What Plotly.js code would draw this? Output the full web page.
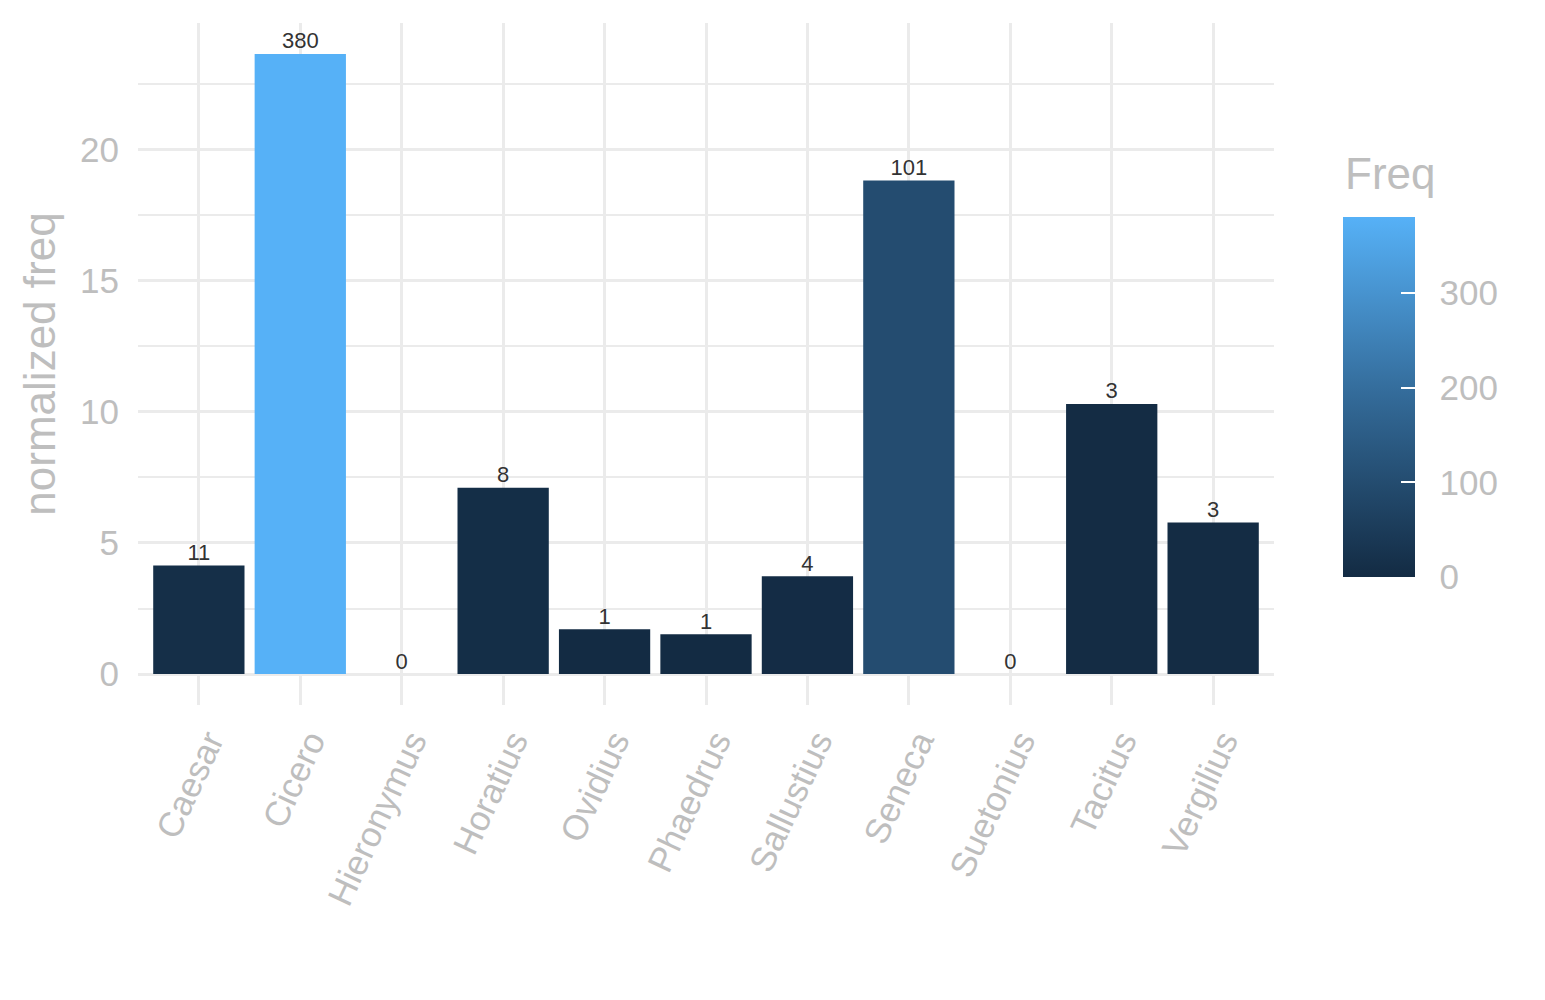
<!DOCTYPE html>
<html>
<head>
<meta charset="utf-8">
<script src="https://cdn.plot.ly/plotly-3.0.1.min.js"></script>
<style>
  html, body { margin: 0; padding: 0; background: #fff; }
  #chart { width: 1545px; height: 1000px; }
</style>
</head>
<body>
<div id="chart"></div>
<script>
// authors on the x axis
const authors = ['Caesar', 'Cicero', 'Hieronymus', 'Horatius', 'Ovidius', 'Phaedrus',
                 'Sallustius', 'Seneca', 'Suetonius', 'Tacitus', 'Vergilius'];
// bar heights (normalized freq)
const normFreq = [4.14, 23.65, 0, 7.11, 1.71, 1.52, 3.73, 18.82, 0, 10.30, 5.78];
// raw counts, used for fill colour and labels
const freq = [11, 380, 0, 8, 1, 1, 4, 101, 0, 3, 3];
const freqTicks = [0, 100, 200, 300];

const gray = '#BEBEBE';
const grid = '#EBEBEB';
const fontFamily = '"Liberation Sans", Arial, Helvetica, sans-serif';
const colorscale = [[0, '#132B43'], [0.5, '#336A98'], [1, '#56B1F7']];

// plot area in pixels, used to place the colour bar and its title
const plotLeft = 138, plotRight = 1274, plotTop = 23, plotBottom = 705;
const px = x => (x - plotLeft) / (plotRight - plotLeft);
const py = y => (plotBottom - y) / (plotBottom - plotTop);

const barPlacement = {
    x: px(1343), xanchor: 'left', xpad: 0,
    y: py(397), yanchor: 'middle', ypad: 0,
    lenmode: 'pixels', len: 360,
    thickness: 72,
    outlinewidth: 0,
    tickvals: freqTicks
};

const bars = {
    type: 'bar',
    x: authors,
    y: normFreq,
    width: 0.9,
    marker: {
        color: freq,
        cmin: 0,
        cmax: 380,
        colorscale: colorscale,
        line: { width: 0 },
        showscale: true,
        // labelled colour bar; transparent outside ticks push the labels off the bar
        colorbar: Object.assign({}, barPlacement, {
            ticks: 'outside', ticklen: 18, tickcolor: 'rgba(0,0,0,0)',
            tickfont: { size: 35, color: gray }
        })
    },
    hoverinfo: 'x+y'
};

const labels = {
    type: 'scatter',
    mode: 'text',
    x: authors,
    y: normFreq,
    text: freq.map(String),
    textposition: 'top center',
    textfont: { size: 22, color: '#333333' },
    showlegend: false,
    hoverinfo: 'skip'
};

// same colour bar again on top, only to draw the white inside tick marks
const tickOverlay = {
    type: 'scatter',
    mode: 'markers',
    x: authors,
    y: normFreq,
    marker: {
        color: freq,
        cmin: 0,
        cmax: 380,
        colorscale: colorscale,
        opacity: 0,
        size: 1,
        showscale: true,
        colorbar: Object.assign({}, barPlacement, {
            ticks: 'inside', ticklen: 14, tickcolor: '#ffffff', tickwidth: 1.5,
            showticklabels: false
        })
    },
    showlegend: false,
    hoverinfo: 'skip'
};

const layout = {
    width: 1545,
    height: 1000,
    paper_bgcolor: '#ffffff',
    plot_bgcolor: '#ffffff',
    font: { family: fontFamily, color: gray },
    margin: { l: plotLeft, r: 1545 - plotRight, t: plotTop, b: 1000 - plotBottom, autoexpand: false },
    showlegend: false,
    bargap: 0.1,
    xaxis: {
        range: [-0.6, 10.6],
        showgrid: true,
        gridcolor: grid,
        gridwidth: 3,
        zeroline: false,
        showline: false,
        ticks: '',
        tickangle: -65,
        tickfont: { size: 35, color: gray },
        ticklabelstandoff: 8,
        ticklabelshift: 10
    },
    yaxis: {
        range: [-1.18, 24.83],
        tickvals: [0, 5, 10, 15, 20],
        showgrid: true,
        gridcolor: grid,
        gridwidth: 3,
        zeroline: false,
        showline: false,
        ticks: '',
        tickfont: { size: 35, color: gray },
        ticklabelstandoff: 18,
        minor: { tickvals: [2.5, 7.5, 12.5, 17.5, 22.5], showgrid: true, gridcolor: grid, gridwidth: 1.5 },
        title: { text: 'normalized freq', font: { size: 44, color: gray }, standoff: 10 }
    },
    annotations: [{
        text: 'Freq',
        xref: 'paper', yref: 'paper',
        x: px(1343), y: py(200),
        xanchor: 'left', yanchor: 'bottom',
        showarrow: false,
        font: { size: 44, color: gray }
    }]
};

Plotly.newPlot('chart', [bars, labels, tickOverlay], layout, { displayModeBar: false, responsive: false });
</script>
</body>
</html>
